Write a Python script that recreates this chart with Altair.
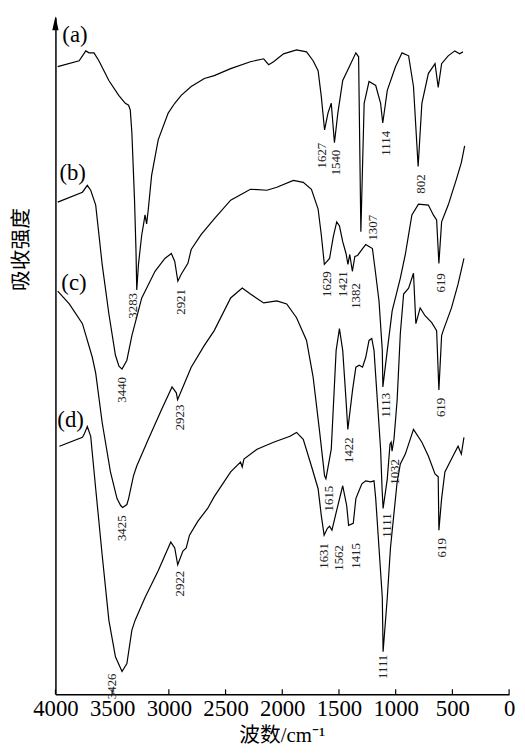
import altair as alt
import pandas as pd

# ---- spectra (wavenumber cm-1, relative absorption intensity, arbitrary units) ----
a_wn = [3980, 3791, 3732, 3704, 3660, 3617, 3529, 3442, 3384, 3355, 3340, 3326, 3303, 3290, 3283, 3268, 3239, 3224, 3210, 3196, 3181, 3152, 3094, 3006, 2948, 2891, 2803, 2687, 2600, 2455, 2281, 2164, 2120, 2077, 1989, 1874, 1786, 1728, 1684, 1656, 1627, 1597, 1568, 1540, 1510, 1467, 1409, 1351, 1327, 1307, 1278, 1235, 1176, 1133, 1114, 1074, 1002, 944, 886, 843, 802, 769, 712, 653, 625, 595, 537, 479, 436, 407]
a_val = [63.5, 64.1, 65.1, 64.9, 64.9, 64.1, 62.1, 60.6, 59.8, 59.6, 59.1, 56.8, 50.1, 45.0, 40.9, 43.5, 46.5, 47.5, 48.5, 47.6, 49.1, 52.5, 56.1, 58.8, 59.8, 60.6, 61.5, 62.3, 62.6, 63.3, 64.0, 64.3, 63.7, 64.0, 64.8, 65.2, 65.0, 64.1, 63.1, 60.5, 57.1, 58.8, 59.8, 55.8, 58.8, 62.1, 63.5, 64.9, 64.5, 46.8, 59.8, 62.0, 61.6, 59.8, 57.8, 61.1, 63.5, 64.9, 64.6, 61.5, 53.4, 59.8, 62.8, 63.8, 61.4, 63.8, 64.6, 65.1, 64.8, 65.0]

b_wn = [3980, 3762, 3719, 3689, 3645, 3588, 3529, 3471, 3440, 3413, 3370, 3326, 3239, 3122, 3035, 2978, 2948, 2921, 2891, 2832, 2803, 2716, 2600, 2455, 2281, 2135, 2048, 1902, 1815, 1743, 1684, 1656, 1629, 1583, 1550, 1520, 1496, 1467, 1438, 1421, 1405, 1382, 1360, 1336, 1292, 1264, 1235, 1205, 1176, 1147, 1118, 1113, 1074, 1031, 959, 915, 886, 857, 799, 712, 668, 639, 619, 595, 537, 465, 421, 392]
b_val = [49.8, 50.8, 51.5, 51.0, 49.5, 43.5, 38.5, 34.3, 33.2, 32.9, 33.8, 36.3, 40.1, 42.8, 44.1, 44.6, 43.8, 41.8, 42.5, 43.6, 45.0, 46.5, 48.1, 50.0, 51.1, 51.0, 51.3, 52.0, 51.8, 51.1, 49.1, 46.5, 43.5, 44.1, 46.3, 47.8, 47.4, 45.8, 44.6, 43.5, 44.5, 42.8, 44.3, 44.4, 45.1, 45.5, 45.3, 45.1, 42.5, 39.8, 34.8, 31.1, 34.8, 38.8, 42.1, 44.5, 46.5, 48.5, 49.6, 49.5, 48.5, 48.0, 43.6, 47.8, 49.5, 52.1, 53.8, 55.5]

c_wn = [3980, 3878, 3762, 3675, 3645, 3588, 3515, 3457, 3425, 3407, 3370, 3355, 3312, 3283, 3181, 3065, 2972, 2934, 2923, 2861, 2803, 2687, 2600, 2455, 2353, 2281, 2164, 2048, 1961, 1874, 1786, 1728, 1670, 1627, 1615, 1568, 1525, 1496, 1467, 1438, 1422, 1380, 1351, 1322, 1292, 1264, 1235, 1211, 1191, 1162, 1133, 1120, 1111, 1074, 1050, 1040, 1032, 1015, 987, 959, 930, 886, 843, 822, 784, 741, 682, 639, 619, 595, 581, 508, 450, 398]
c_val = [40.8, 39.5, 37.5, 34.1, 32.5, 27.5, 22.5, 19.8, 19.1, 18.9, 19.2, 19.8, 22.1, 23.1, 25.8, 28.8, 31.1, 30.5, 29.8, 31.5, 33.1, 35.3, 36.8, 40.1, 41.1, 40.5, 39.6, 39.8, 39.5, 38.1, 35.8, 32.1, 26.5, 22.1, 21.8, 24.8, 34.8, 37.0, 34.8, 29.8, 26.8, 30.8, 33.1, 33.3, 33.1, 34.1, 35.8, 36.0, 34.8, 29.8, 24.8, 20.8, 18.8, 21.8, 25.3, 25.5, 24.6, 25.8, 29.8, 36.5, 40.5, 41.1, 42.6, 37.5, 39.1, 38.3, 37.6, 36.8, 30.8, 36.3, 36.8, 39.1, 41.5, 44.1]

d_wn = [3965, 3762, 3747, 3719, 3689, 3645, 3588, 3529, 3471, 3413, 3370, 3326, 3297, 3210, 3094, 2983, 2948, 2922, 2876, 2847, 2818, 2745, 2658, 2600, 2455, 2368, 2353, 2338, 2222, 2077, 1932, 1874, 1815, 1743, 1684, 1656, 1631, 1602, 1583, 1562, 1510, 1467, 1432, 1415, 1374, 1351, 1327, 1298, 1264, 1220, 1191, 1176, 1147, 1118, 1111, 1074, 1046, 1017, 987, 959, 915, 843, 769, 712, 653, 625, 619, 595, 566, 508, 450, 421, 398]
d_val = [25.1, 26.0, 26.3, 27.1, 26.1, 20.8, 14.1, 7.5, 3.8, 2.3, 3.1, 6.5, 7.5, 9.8, 12.5, 15.4, 14.8, 13.1, 14.5, 14.8, 16.1, 17.5, 18.8, 20.0, 22.5, 23.5, 23.0, 23.8, 24.8, 25.5, 26.1, 26.5, 25.8, 23.1, 20.8, 18.1, 16.1, 16.8, 17.0, 16.6, 19.1, 21.1, 19.1, 17.1, 17.3, 19.8, 20.5, 21.3, 21.6, 21.5, 21.6, 19.8, 14.8, 9.8, 4.3, 9.8, 14.8, 18.1, 21.5, 23.3, 24.3, 26.8, 25.5, 24.1, 22.3, 22.0, 16.6, 19.8, 22.5, 23.8, 25.1, 24.3, 26.0]

# ---- peak annotations ----
ann_text = ["3283", "2921", "3440", "2923", "3425", "2922", "3426", "1627", "1540", "1114", "802", "1307", "1629", "1421", "1382", "619", "1113", "619", "1422", "1615", "1032", "1111", "1631", "1562", "1415", "619", "1111"]
ann_wn = [3320, 2893, 3416, 2902, 3416, 2902, 3503, 1647, 1525, 1089, 775, 1202, 1603, 1464, 1351, 601, 1089, 601, 1412, 1586, 1002, 1072, 1630, 1499, 1351, 592, 1107]
ann_val = [40.6, 41.0, 32.1, 29.3, 18.1, 12.5, 2.1, 55.8, 55.1, 57.0, 52.6, 48.5, 42.8, 42.8, 41.6, 42.6, 30.5, 30.0, 26.0, 21.1, 23.8, 18.3, 15.3, 15.1, 15.3, 15.8, 4.0]

# ---- curve labels ----
lab_text = ["(a)", "(b)", "(c)", "(d)"]
lab_wn = [3939, 3965, 3948, 3983]
lab_val = [66.0, 52.0, 40.9, 27.0]

tick_vals = [4000, 3500, 3000, 2500, 2000, 1500, 1000, 500, 0]

rows = []
for name, wn, val in [("a", a_wn, a_val), ("b", b_wn, b_val), ("c", c_wn, c_val), ("d", d_wn, d_val)]:
    for i, (w, v) in enumerate(zip(wn, val)):
        rows.append({"series": name, "wn": w, "val": v, "i": i})
df = pd.DataFrame(rows)
ann_df = pd.DataFrame({"t": ann_text, "wn": ann_wn, "val": ann_val})
lab_df = pd.DataFrame({"t": lab_text, "wn": lab_wn, "val": lab_val})
tick_df = pd.DataFrame({"wn": tick_vals})

xscale = alt.Scale(domain=[0, 4000], reverse=True, nice=False)
yscale = alt.Scale(domain=[0, 68.5], nice=False, zero=False)
SERIF = "Liberation Serif"

xaxis = alt.Axis(
    values=tick_vals, format="d", tickSize=0, labelFont=SERIF, labelFontSize=23,
    labelColor="black", labelPadding=3, labelFlush=False, labelOverlap=False,
    domainColor="black", domainWidth=1.5, grid=False, title=None)
yaxis = alt.Axis(
    labels=False, ticks=False, grid=False, title=None,
    domainColor="black", domainWidth=1.5)

lines = alt.Chart(df).mark_line(color="black", strokeWidth=1.2).encode(
    x=alt.X("wn:Q", scale=xscale, axis=xaxis),
    y=alt.Y("val:Q", scale=yscale, axis=yaxis),
    detail="series:N",
    order="i:Q",
)

ticks = alt.Chart(tick_df).mark_rule(color="black", strokeWidth=1.2).encode(
    x=alt.X("wn:Q", scale=xscale, axis=xaxis),
    y=alt.value(680), y2=alt.value(685),
)

ann = alt.Chart(ann_df).mark_text(
    angle=270, align="right", baseline="middle", font=SERIF, fontSize=13, color="#222"
).encode(
    x=alt.X("wn:Q", scale=xscale, axis=xaxis),
    y=alt.Y("val:Q", scale=yscale, axis=yaxis),
    text="t:N",
)

labs = alt.Chart(lab_df).mark_text(
    align="left", baseline="alphabetic", font=SERIF, fontSize=23, color="black"
).encode(
    x=alt.X("wn:Q", scale=xscale, axis=xaxis),
    y=alt.Y("val:Q", scale=yscale, axis=yaxis),
    text="t:N",
)

arrow = alt.Chart(pd.DataFrame({"k": [0]})).mark_point(
    shape="M0,-1L0.45,1L-0.45,1Z", filled=True, color="black", opacity=1, size=200
).encode(x=alt.value(0), y=alt.value(6))

xtitle = alt.Chart(pd.DataFrame({"t": ["波数/cm⁻¹"]})).mark_text(
    align="center", baseline="alphabetic", font="Liberation Serif, Noto Sans CJK SC",
    fontSize=21, color="black"
).encode(text="t:N", x=alt.value(229.5), y=alt.value(733))

ytitle = alt.Chart(pd.DataFrame({"t": ["吸收强度"]})).mark_text(
    angle=270, align="center", baseline="middle", font="Noto Sans CJK SC",
    fontSize=21, color="black"
).encode(text="t:N", x=alt.value(-34), y=alt.value(235))

chart = alt.layer(lines, ticks, ann, labs, arrow, xtitle, ytitle).properties(
    width=459, height=685,
    autosize=alt.AutoSizeParams(type="none"),
    padding={"left": 48, "top": 5, "right": 8, "bottom": 54},
).configure_view(strokeWidth=0)

chart.save("out.html", embed_options={"renderer": "svg", "actions": False})
